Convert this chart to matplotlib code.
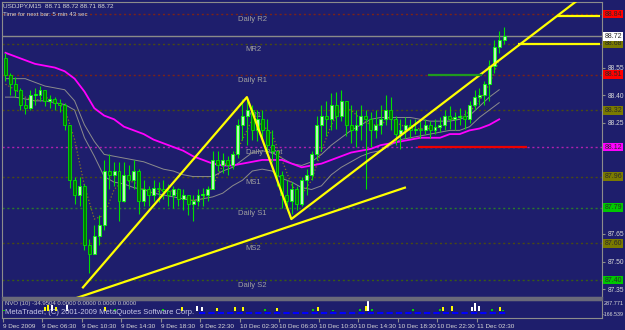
import numpy as np
import matplotlib.pyplot as plt
from matplotlib.patches import Rectangle

plt.rcParams['font.family'] = ['Liberation Sans', 'DejaVu Sans']

# USDJPY chart, 9-11 Dec 2009, drawn as 30 min bars (hours since 9 Dec 02:30)
close = [88.51, 88.46, 88.43, 88.35, 88.33, 88.40, 88.40, 88.43, 88.37, 88.38,
         88.36, 88.35, 88.24, 87.94, 87.86, 87.91, 87.59, 87.54, 87.64, 87.70,
         87.99, 87.97, 87.99, 87.83, 87.97, 87.94, 87.99, 87.83, 87.89, 87.86,
         87.90, 87.89, 87.88, 87.86, 87.89, 87.84, 87.86, 87.81, 87.83, 87.86,
         87.86, 87.89, 88.05, 88.02, 88.05, 88.02, 88.08, 88.24, 88.29, 88.32,
         88.21, 88.27, 88.21, 88.13, 88.10, 87.97, 87.86, 87.83, 87.89, 87.81,
         87.94, 87.97, 88.08, 88.24, 88.29, 88.27, 88.35, 88.29, 88.37, 88.24,
         88.21, 88.24, 88.29, 88.27, 88.21, 88.24, 88.27, 88.32, 88.27, 88.19,
         88.21, 88.24, 88.21, 88.22, 88.21, 88.24, 88.21, 88.23, 88.24, 88.29,
         88.27, 88.28, 88.29, 88.27, 88.35, 88.39, 88.40, 88.46, 88.56, 88.66,
         88.70, 88.72]
high = [88.63, 88.52, 88.50, 88.44, 88.38, 88.43, 88.44, 88.45, 88.43, 88.40,
        88.39, 88.38, 88.36, 88.24, 87.96, 87.96, 87.92, 87.62, 87.70, 87.75,
        88.05, 88.08, 88.04, 88.04, 88.04, 88.02, 88.05, 88.00, 87.94, 87.91,
        87.94, 87.93, 87.94, 87.92, 87.91, 87.90, 87.89, 87.86, 87.86, 87.89,
        87.90, 87.91, 88.10, 88.10, 88.09, 88.07, 88.10, 88.27, 88.38, 88.38,
        88.35, 88.32, 88.32, 88.27, 88.21, 88.10, 87.99, 87.94, 87.93, 87.91,
        87.96, 88.00, 88.10, 88.29, 88.35, 88.37, 88.41, 88.42, 88.43, 88.37,
        88.35, 88.32, 88.35, 88.32, 88.31, 88.32, 88.35, 88.40, 88.39, 88.29,
        88.27, 88.28, 88.27, 88.27, 88.26, 88.27, 88.26, 88.27, 88.28, 88.32,
        88.34, 88.31, 88.33, 88.32, 88.37, 88.43, 88.44, 88.48, 88.59, 88.70,
        88.75, 88.77]
low = [88.48, 88.40, 88.39, 88.32, 88.30, 88.32, 88.35, 88.37, 88.34, 88.33,
       88.32, 88.31, 88.21, 87.90, 87.81, 87.80, 87.56, 87.44, 87.54, 87.59,
       87.67, 87.89, 87.91, 87.72, 87.82, 87.89, 87.89, 87.76, 87.80, 87.80,
       87.83, 87.82, 87.84, 87.80, 87.79, 87.80, 87.78, 87.75, 87.72, 87.80,
       87.80, 87.83, 87.89, 87.99, 87.98, 87.97, 88.00, 88.06, 88.16, 88.13,
       88.16, 88.15, 88.16, 88.08, 88.04, 87.91, 87.79, 87.78, 87.76, 87.78,
       87.80, 87.86, 87.94, 88.05, 88.10, 88.18, 88.21, 88.22, 88.26, 88.18,
       88.14, 88.12, 88.16, 87.89, 88.12, 88.17, 88.19, 88.24, 88.21, 88.13,
       88.11, 88.17, 88.17, 88.19, 88.17, 88.19, 88.17, 88.19, 88.20, 88.21,
       88.22, 88.21, 88.24, 88.22, 88.25, 88.32, 88.35, 88.35, 88.37, 88.52,
       88.63, 88.68]
first_open = 88.60

# hourly indicator values
ma_slow = [88.63, 88.61, 88.59, 88.57, 88.56, 88.55, 88.53, 88.49, 88.42, 88.33,
           88.29, 88.27, 88.23, 88.21, 88.19, 88.16, 88.14, 88.12, 88.10, 88.07,
           88.05, 88.03, 88.02, 88.02, 88.03, 88.04, 88.05, 88.05, 88.05, 88.03,
           88.01, 88.02, 88.03, 88.05, 88.07, 88.09, 88.10, 88.11, 88.13, 88.14,
           88.15, 88.16, 88.17, 88.17, 88.17, 88.19, 88.19, 88.21, 88.22, 88.24,
           88.27]
env_upper = [88.49, 88.49, 88.49, 88.47, 88.45, 88.44, 88.43, 88.37, 88.24, 88.15,
             88.08, 88.07, 88.06, 88.05, 88.04, 88.02, 88.00, 87.99, 87.97, 87.96,
             87.96, 87.96, 87.99, 88.01, 88.05, 88.09, 88.10, 88.09, 88.06, 88.03,
             88.02, 88.04, 88.08, 88.13, 88.17, 88.21, 88.24, 88.27, 88.28, 88.28,
             88.28, 88.28, 88.27, 88.26, 88.26, 88.26, 88.27, 88.29, 88.34, 88.39,
             88.43]
env_lower = [88.39, 88.39, 88.38, 88.37, 88.37, 88.36, 88.35, 88.32, 88.17, 88.07,
             87.96, 87.93, 87.92, 87.90, 87.89, 87.87, 87.86, 87.85, 87.84, 87.83,
             87.84, 87.85, 87.87, 87.91, 87.94, 87.99, 88.00, 87.99, 87.95, 87.93,
             87.90, 87.89, 87.91, 87.97, 88.01, 88.04, 88.07, 88.09, 88.10, 88.13,
             88.16, 88.17, 88.18, 88.19, 88.20, 88.21, 88.21, 88.23, 88.28, 88.32,
             88.36]
ma_fast = [88.46, 88.43, 88.39, 88.37, 88.39, 88.37, 88.33, 88.16, 87.91, 87.73,
           87.75, 87.89, 87.94, 87.93, 87.89, 87.87, 87.89, 87.88, 87.85, 87.83,
           87.84, 87.91, 88.02, 88.05, 88.16, 88.27, 88.24, 88.19, 88.05, 87.91,
           87.86, 87.94, 88.10, 88.24, 88.33, 88.32, 88.27, 88.24, 88.24, 88.28,
           88.24, 88.22, 88.22, 88.22, 88.23, 88.27, 88.28, 88.31, 88.37, 88.46,
           88.59]

# pivot levels: (price, label, line colour, box colour)
pivots = [
    (88.84, 'Daily R2', '#7a2418', '#ff0000'),
    (88.68, 'MR2', '#4a4a14', '#7a7a00'),
    (88.51, 'Daily R1', '#7a2418', '#ff0000'),
    (88.32, 'MR1', '#4a4a14', '#7a7a00'),
    (88.12, 'Daily Pivot', '#b020b0', '#ff00ff'),
    (87.96, 'MS1', '#4a4a14', '#7a7a00'),
    (87.79, 'Daily S1', '#2a7a2a', '#00c800'),
    (87.60, 'MS2', '#4a4a14', '#7a7a00'),
    (87.40, 'Daily S2', '#3a5a14', '#00c800'),
]
label_hours = {'Daily': 23.8, 'M': 24.5, 'Pivot': 24.6}
bid = 88.72
price_ticks = [88.55, 88.40, 88.25, 87.65, 87.50, 87.35]

# drawn objects
zigzag_h = [8.1, 24.7, 29.2, 62.0]
zigzag_p = [87.36, 88.39, 87.73, 89.07]
support_h = [7.3, 40.7]
support_p = [87.30, 87.90]
hsegs = [  # hour from, hour to, price, colour, width
    (56.1, 60.5, 88.83, '#ffff00', 1.6),
    (52.2, 60.5, 88.68, '#ffff00', 1.6),
    (43.0, 48.5, 88.51, '#1f9a1f', 1.6),
    (42.0, 53.1, 88.12, '#ee0000', 1.6),
]

# volume-type histogram in the sub window
nvo_h = [0.1, 4.25, 4.56, 4.96, 5.37, 6.48, 10.33, 11.34, 16.2, 18.13, 19.65, 20.15,
         21.67, 23.49, 24.3, 26.53, 27.75, 31.39, 31.9, 33.42, 36.15, 36.76, 36.96,
         37.37, 41.52, 44.25, 44.56, 45.47, 47.49, 47.8, 48.2, 49.52, 50.33, 50.63]
nvo_v = [40, 120, 150, 150, 100, 170, 120, 60, 60, 120, 140, 120,
         90, 120, 100, 60, 80, 50, 120, 40, 50, 130, 287,
         50, 50, 50, 100, 130, 110, 200, 130, 60, 110, 40]
nvo_c = ['g', 'y', 'y', 'w', 'y', 'w', 'y', 'g', 'g', 'y', 'w', 'w',
         'y', 'y', 'y', 'g', 'y', 'g', 'y', 'g', 'g', 'y', 'w',
         'g', 'g', 'g', 'y', 'y', 'w', 'w', 'w', 'g', 'y', 'g']
nvo_range = (-166.539, 287.771)

time_ticks = [0, 4, 8, 12, 16, 20, 24, 28, 32, 36, 40, 44, 48]
time_labels = ['9 Dec 2009', '9 Dec 06:30', '9 Dec 10:30', '9 Dec 14:30', '9 Dec 18:30',
               '9 Dec 22:30', '10 Dec 02:30', '10 Dec 06:30', '10 Dec 10:30',
               '10 Dec 14:30', '10 Dec 18:30', '10 Dec 22:30', '11 Dec 02:30']

bg = '#1e1e6c'
frame = '#8c8c8c'
txt = '#d8d8d8'

W, H = 625, 330


def px_box(x0, y0, x1, y1):
    return [x0 / W, 1 - y1 / H, (x1 - x0) / W, (y1 - y0) / H]


fig = plt.figure(figsize=(W / 100, H / 100), dpi=100, facecolor=bg)
ax = fig.add_axes(px_box(2, 2, 602, 297), facecolor=bg)
ax2 = fig.add_axes(px_box(2, 300, 602, 318), facecolor=bg, sharex=ax)
fig.patches.append(Rectangle((2 / W, 1 - 300 / H), 600 / W, 3 / H,
                             transform=fig.transFigure, color='#6a6a7a', zorder=0))

n = len(close)
t = np.arange(n) * 0.5 + 0.25
th = np.arange(len(ma_slow)) + 0.25
opens = np.array([first_open] + close[:-1])
close = np.array(close)

# pivot lines + labels
for p, lab, lc, bc in pivots:
    ax.axhline(p, color=lc, lw=1, ls=(0, (1.5, 2)), zorder=1)
    key = 'Pivot' if 'Pivot' in lab else ('Daily' if lab.startswith('Daily') else 'M')
    ax.text(label_hours[key], p - 0.012, lab, color='#a0a0a0', fontsize=5.5,
            va='top', ha='left', zorder=2)
    ax.text(1.004, p, f'{p:.2f}', transform=ax.get_yaxis_transform(), color='#2a2a2a',
            fontsize=5.0, va='center', ha='left', clip_on=False,
            bbox=dict(facecolor=bc, edgecolor='none', pad=0.7))
ax.axhline(bid, color='#8a8a8a', lw=1, zorder=1)
ax.text(1.004, bid, f'{bid:.2f}', transform=ax.get_yaxis_transform(), color='#2a2a2a',
        fontsize=5.0, va='center', ha='left', clip_on=False,
        bbox=dict(facecolor='#ffffff', edgecolor='none', pad=0.7))

# indicators
ax.plot(th, env_upper, color='#8c8c8c', lw=0.7, zorder=3)
ax.plot(th, env_lower, color='#8c8c8c', lw=0.7, zorder=3)
ax.plot(th, ma_fast, color='#8a7420', lw=0.9, ls=':', zorder=3)
ax.plot(th, ma_slow, color='#ff00ff', lw=1.3, zorder=4)

# candles
up = close >= opens
ax.vlines(t, low, high, color='#00e000', lw=0.8, zorder=5)
body_lo = np.minimum(opens, close)
body_h = np.maximum(np.abs(close - opens), 0.006)
ax.bar(t[up], body_h[up], bottom=body_lo[up], width=0.3, color='#b8f8b8',
       edgecolor='#00ff00', lw=0.6, zorder=6)
ax.bar(t[~up], body_h[~up], bottom=body_lo[~up], width=0.3, color='#007800',
       edgecolor='#00e000', lw=0.6, zorder=6)

# user drawn lines
ax.plot(zigzag_h, zigzag_p, color='#ffff00', lw=1.6, zorder=7)
ax.plot(support_h, support_p, color='#ffff00', lw=1.6, zorder=7)
for h0, h1, p, c, w in hsegs:
    ax.hlines(p, h0, h1, color=c, lw=w, zorder=7)

ax.set_xlim(-0.1, 60.66)
ax.set_ylim(87.308, 88.905)
ax.yaxis.tick_right()
ax.set_yticks(price_ticks)
ax.set_yticklabels([f'{v:.2f}' for v in price_ticks])
ax.tick_params(axis='y', length=2, color=frame, labelcolor=txt, labelsize=4.8, pad=2)
ax.tick_params(axis='x', bottom=False, labelbottom=False)
for s in ax.spines.values():
    s.set_color(frame)
    s.set_linewidth(0.8)

fig.text(3 / W, 1 - 6 / H, 'USDJPY,M15  88.71 88.72 88.71 88.72', color=txt,
         fontsize=4.6, va='center', ha='left')
fig.text(3 / W, 1 - 14 / H, 'Time for next bar: 5 min 43 sec', color=txt,
         fontsize=4.4, va='center', ha='left')

# sub window
colmap = {'w': '#ffffff', 'y': '#ffff00', 'g': '#00d000'}
ax2.bar(nvo_h, nvo_v, width=0.28, color=[colmap[c] for c in nvo_c], zorder=3)
ax2.hlines(-40, 19.9, 51.0, color='#0000ff', lw=1.5, ls=(0, (3, 1.5)), zorder=2)
ax2.set_ylim(*nvo_range)
ax2.set_yticks([])
ax2.text(0.005, 0.78, 'NVO (10) -34.9504 0.0000 0.0000 0.0000 0.0000', transform=ax2.transAxes,
         color='#c8c8c8', fontsize=4.3, va='center', ha='left')
ax2.text(0.005, 0.28, 'MetaTrader, (C) 2001-2009 MetaQuotes Software Corp.',
         transform=ax2.transAxes, color='#c8c8e8', fontsize=5.5, va='center', ha='left', zorder=4)
ax2.text(1.002, 0.82, f'{nvo_range[1]:.3f}', transform=ax2.transAxes, color=txt,
         fontsize=4.0, va='center', ha='left', clip_on=False)
ax2.text(1.002, 0.22, f'{nvo_range[0]:.3f}', transform=ax2.transAxes, color=txt,
         fontsize=3.8, va='center', ha='left', clip_on=False)
ax2.set_xticks(time_ticks)
ax2.set_xticklabels(time_labels)
for lab in ax2.get_xticklabels():
    lab.set_ha('left')
ax2.tick_params(axis='x', length=3, color=frame, labelcolor=txt, labelsize=4.6, pad=1)
for s in ax2.spines.values():
    s.set_color(frame)
    s.set_linewidth(0.8)

fig.savefig('out.png', dpi=100, facecolor=bg)
